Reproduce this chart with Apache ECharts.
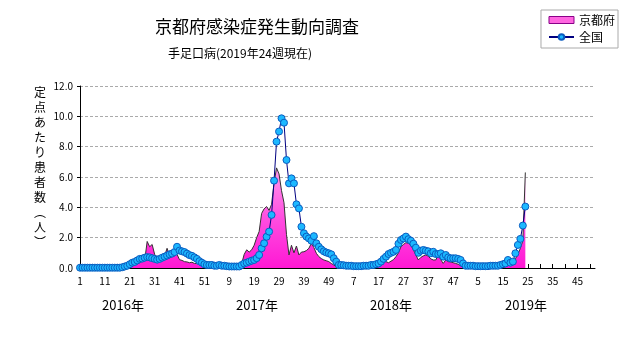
<!DOCTYPE html>
<html><head><meta charset="utf-8">
<script src="https://cdn.jsdelivr.net/npm/echarts@6/dist/echarts.min.js"></script>
<style>html,body{margin:0;padding:0;background:#fff}#c{width:631px;height:347px}</style>
</head><body><div id="c"></div>
<script>
const FONT = '"Noto Sans CJK JP", "Noto Sans", sans-serif';
const titleText = '京都府感染症発生動向調査';
const subtitleText = '手足口病(2019年24週現在)';
const yAxisTitle = ['定','点','あ','た','り','患','者','数','︵','人','︶'];
const years = ['2016年', '2017年', '2018年', '2019年'];
const weeksPerYear = 52;
const yTicks = [0, 2, 4, 6, 8, 10, 12];

const kyoto2016 = [0,0,0,0,0,0,0,0,0,0, 0,0,0,0,0,0,0,0.05,0.1,0.1,
  0.15,0.2,0.25,0.3,0.35,0.45,0.5,1.75,1.4,1.55,
  0.9,0.7,0.6,0.7,0.8,1.3,0.8,0.85,0.85,0.9,
  0.55,0.5,0.42,0.4,0.35,0.38,0.3,0.3,0.25,0.2,
  0.15,0.1];
const kyoto2017 = [0.1,0.1,0.15,0.1,0.1,0.1,0.05,0.05,0.05,0.05,
  0.05,0.05,0.1,0.3,0.9,1.2,1.05,1.2,1.5,2.0,
  2.4,3.6,3.9,4.05,3.8,4.2,5.6,6.6,6.2,5.1,
  4.3,2.2,0.86,1.5,1.0,1.45,0.86,1.05,1.07,1.15,
  1.3,1.63,1.35,0.97,0.75,0.62,0.53,0.48,0.42,0.3,
  0.2,0.1];
const kyoto2018 = [0.05,0.05,0.05,0.05,0.05,0.05,0.05,0.05,0.05,0.05,
  0.05,0.05,0.05,0.05,0.05,0.05,0.1,0.2,0.4,0.42,
  0.35,0.45,0.55,0.75,1.0,1.4,1.55,1.67,1.63,1.5,
  1.2,0.86,0.53,0.7,0.8,0.86,0.78,0.6,0.53,0.53,
  0.85,0.55,0.3,0.53,0.42,0.4,0.35,0.3,0.25,0.15,
  0.1,0.05];
const kyoto2019 = [0.05,0.05,0.05,0.05,0.05,0.05,0.05,0.05,0.05,0.05,
  0.05,0.05,0.05,0.1,0.15,0.2,0.35,0.2,0.25,0.6,
  0.9,1.3,1.8,6.3];

const national2016 = [0.02,0.02,0.02,0.02,0.02,0.02,0.02,0.02,0.02,0.02,
  0.02,0.02,0.02,0.02,0.02,0.02,0.02,0.05,0.1,0.15,
  0.25,0.35,0.4,0.5,0.6,0.62,0.68,0.72,0.7,0.65,
  0.6,0.55,0.6,0.68,0.75,0.82,0.9,0.95,1.05,1.4,
  1.15,1.1,1.05,0.95,0.85,0.8,0.7,0.6,0.45,0.35,
  0.25,0.2];
const national2017 = [0.2,0.2,0.15,0.15,0.2,0.15,0.15,0.12,0.1,0.1,
  0.1,0.1,0.1,0.2,0.3,0.35,0.42,0.48,0.53,0.65,
  0.86,1.3,1.63,2.06,2.4,3.5,5.76,8.33,9.0,9.87,
  9.58,7.12,5.58,5.91,5.58,4.2,3.93,2.72,2.29,2.07,
  1.95,1.8,2.1,1.63,1.4,1.23,1.1,1.02,0.97,0.9,
  0.64,0.42];
const national2018 = [0.2,0.2,0.18,0.15,0.15,0.15,0.12,0.12,0.12,0.12,
  0.15,0.15,0.15,0.2,0.2,0.25,0.3,0.42,0.6,0.75,
  0.92,1.0,1.07,1.19,1.6,1.85,1.95,2.07,1.9,1.8,
  1.6,1.34,1.0,1.14,1.19,1.14,1.1,0.97,1.07,0.92,
  0.92,0.97,0.75,0.86,0.7,0.64,0.64,0.64,0.6,0.53,
  0.3,0.15];
const national2019 = [0.15,0.15,0.15,0.12,0.12,0.12,0.12,0.12,0.12,0.15,
  0.15,0.15,0.15,0.2,0.25,0.3,0.53,0.35,0.42,0.97,
  1.52,1.92,2.8,4.05];

const categories = [];
years.forEach(() => { for (let w = 1; w <= weeksPerYear; w++) categories.push(String(w)); });
const pad = n => Array(n).fill(null);
const kyoto = [...kyoto2016, ...kyoto2017, ...kyoto2018, ...kyoto2019, ...pad(weeksPerYear - kyoto2019.length)];
const national = [...national2016, ...national2017, ...national2018, ...national2019, ...pad(weeksPerYear - national2019.length)];

const chart = echarts.init(document.getElementById('c'), null, {renderer: 'canvas'});

const yearLabelX = [123, 257, 391, 526];
const graphics = [
  {type: 'text', x: 257, y: 27, style: {text: titleText, font: '17px ' + FONT, fill: '#000', align: 'center', verticalAlign: 'middle', textAlign: 'center', textVerticalAlign: 'middle'}},
  {type: 'text', x: 240, y: 53, style: {text: subtitleText, font: '12px ' + FONT, fill: '#000', align: 'center', verticalAlign: 'middle', textAlign: 'center', textVerticalAlign: 'middle'}},
  {type: 'text', x: 40, y: 85, style: {text: yAxisTitle.join('\n'), font: '12px ' + FONT, lineHeight: 15, fill: '#000', align: 'center', verticalAlign: 'top', textAlign: 'center', textVerticalAlign: 'top'}}
];
years.forEach((y, i) => graphics.push({type: 'text', x: yearLabelX[i], y: 305, style: {text: y, font: '13px ' + FONT, fill: '#000', align: 'center', verticalAlign: 'middle', textAlign: 'center', textVerticalAlign: 'middle'}}));

chart.setOption({
  animation: false,
  textStyle: {fontFamily: FONT},
  grid: {left: 80, right: 36, top: 86, bottom: 79, containLabel: false},
  legend: {
    orient: 'vertical', right: 13, top: 10,
    itemWidth: 25, itemHeight: 7, itemGap: 3,
    padding: [3, 3, 4, 7],
    borderColor: '#aaa', borderWidth: 1, backgroundColor: '#fff',
    textStyle: {fontSize: 12, color: '#000', fontFamily: FONT, lineHeight: 14},
    data: [
      {name: '京都府', icon: 'rect', itemStyle: {color: '#ff66e0', borderColor: '#880088', borderWidth: 1}},
      {name: '全国'}
    ]
  },
  graphic: graphics,
  xAxis: {
    type: 'category', data: categories, boundaryGap: false,
    axisLine: {lineStyle: {color: '#000', width: 1}},
    axisTick: {inside: true, length: 4, interval: 4, lineStyle: {color: '#000'}},
    axisLabel: {interval: 9, color: '#000', fontSize: 10, margin: 8, fontFamily: FONT},
    splitLine: {show: false}
  },
  yAxis: {
    type: 'value', min: yTicks[0], max: yTicks[yTicks.length - 1], interval: 2,
    axisLine: {show: true, lineStyle: {color: '#000'}},
    axisTick: {show: true, length: 3, lineStyle: {color: '#000'}},
    axisLabel: {formatter: v => v.toFixed(1), color: '#000', fontSize: 10, margin: 7, fontFamily: FONT},
    splitLine: {lineStyle: {color: '#aaa', type: [3, 2], width: 1}}
  },
  series: [
    {
      name: '京都府', type: 'line', data: kyoto, symbol: 'none', showSymbol: false,
      lineStyle: {color: '#333', width: 1},
      itemStyle: {color: '#ff44dd'},
      areaStyle: {opacity: 1, color: new echarts.graphic.LinearGradient(0, 0, 0, 1, [
        {offset: 0, color: '#ff9aec'}, {offset: 0.5, color: '#ff4ee0'}, {offset: 1, color: '#ff18d4'}
      ])},
      z: 2
    },
    {
      name: '全国', type: 'line', data: national, symbol: 'circle', symbolSize: 7, showSymbol: true, showAllSymbol: true,
      lineStyle: {color: '#000080', width: 1},
      itemStyle: {color: '#1cb8ff', borderColor: '#0a5cc0', borderWidth: 1},
      z: 3
    }
  ]
});
</script>
</body></html>
